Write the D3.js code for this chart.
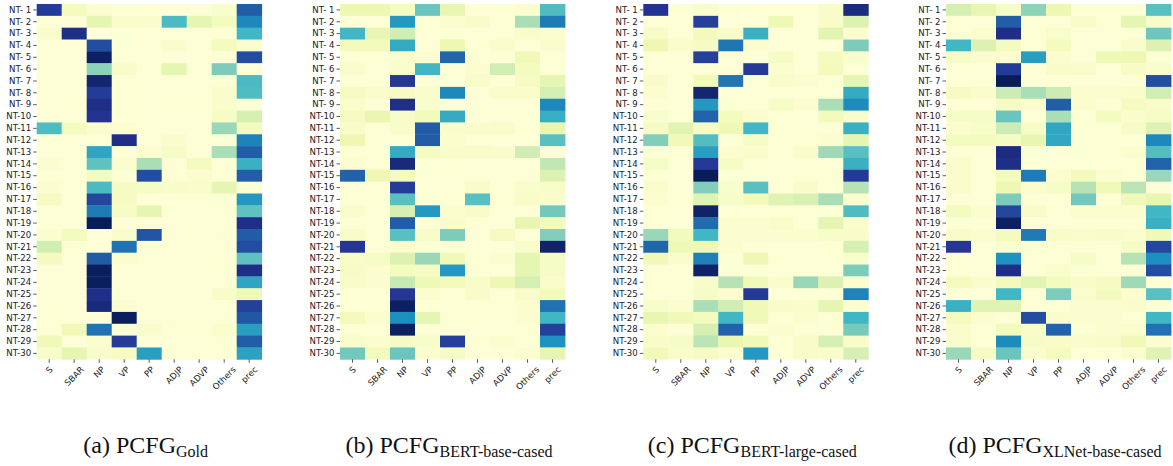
<!DOCTYPE html>
<html><head><meta charset="utf-8">
<script src="https://cdn.jsdelivr.net/npm/d3@7"></script>
<style>body{margin:0;background:#fff}svg{display:block}</style>
</head><body>
<svg id="chart" width="1173" height="466"></svg>
<script>
const columns = ["S","SBAR","NP","VP","PP","ADJP","ADVP","Others","prec"];
const rowLabels = d3.range(1,31).map(i => "NT-" + (i < 10 ? " " + i : i));
const captionMain = ["(a) PCFG","(b) PCFG","(c) PCFG","(d) PCFG"];
const captionSub = ["Gold","BERT-base-cased","BERT-large-cased","XLNet-base-cased"];

const gold = [
[0.85,0.08,0.03,0.02,0.01,0.01,0.01,0.04,0.75],
[0.01,0.01,0.15,0.04,0.04,0.48,0.15,0.08,0.65],
[0.04,0.90,0.00,0.02,0.01,0.01,0.01,0.01,0.50],
[0.01,0.01,0.80,0.02,0.01,0.04,0.01,0.08,0.03],
[0.01,0.01,0.98,0.02,0.01,0.01,0.01,0.02,0.80],
[0.02,0.01,0.35,0.05,0.02,0.15,0.02,0.38,0.01],
[0.01,0.01,0.95,0.02,0.01,0.01,0.01,0.02,0.48],
[0.01,0.01,0.85,0.02,0.02,0.02,0.02,0.04,0.47],
[0.01,0.02,0.90,0.02,0.01,0.02,0.02,0.04,0.02],
[0.01,0.01,0.88,0.02,0.01,0.02,0.02,0.06,0.20],
[0.47,0.08,0.03,0.03,0.01,0.01,0.01,0.33,0.08],
[0.02,0.01,0.02,0.90,0.01,0.04,0.01,0.02,0.66],
[0.01,0.01,0.56,0.01,0.03,0.06,0.01,0.30,0.75],
[0.03,0.01,0.44,0.03,0.30,0.01,0.08,0.01,0.52],
[0.02,0.01,0.08,0.02,0.80,0.02,0.03,0.02,0.75],
[0.03,0.01,0.48,0.07,0.06,0.05,0.04,0.15,0.02],
[0.07,0.01,0.82,0.07,0.01,0.01,0.01,0.02,0.60],
[0.02,0.01,0.68,0.06,0.15,0.02,0.02,0.02,0.44],
[0.01,0.01,1.00,0.01,0.01,0.01,0.01,0.01,0.90],
[0.03,0.08,0.01,0.04,0.78,0.01,0.01,0.02,0.76],
[0.22,0.02,0.01,0.70,0.01,0.01,0.01,0.01,0.80],
[0.08,0.02,0.76,0.03,0.02,0.02,0.01,0.02,0.44],
[0.01,0.01,0.99,0.01,0.01,0.01,0.01,0.02,0.90],
[0.01,0.01,0.99,0.01,0.01,0.01,0.01,0.01,0.56],
[0.01,0.01,0.90,0.02,0.01,0.01,0.01,0.05,0.10],
[0.02,0.01,0.93,0.03,0.01,0.01,0.01,0.01,0.84],
[0.02,0.01,0.01,0.99,0.01,0.01,0.01,0.01,0.77],
[0.02,0.10,0.70,0.02,0.04,0.02,0.02,0.04,0.58],
[0.10,0.01,0.03,0.85,0.01,0.01,0.01,0.02,0.75],
[0.05,0.15,0.04,0.07,0.58,0.02,0.02,0.02,0.57]
];
const bertBase = [
[0.12,0.12,0.07,0.42,0.14,0.01,0.02,0.03,0.47],
[0.01,0.01,0.60,0.01,0.03,0.05,0.02,0.30,0.68],
[0.50,0.14,0.22,0.01,0.02,0.01,0.02,0.04,0.03],
[0.09,0.09,0.54,0.01,0.12,0.02,0.04,0.01,0.04],
[0.02,0.02,0.04,0.03,0.73,0.02,0.02,0.10,0.02],
[0.04,0.01,0.04,0.50,0.01,0.03,0.22,0.08,0.02],
[0.02,0.02,0.87,0.01,0.01,0.05,0.01,0.07,0.15],
[0.07,0.04,0.07,0.04,0.65,0.01,0.04,0.04,0.20],
[0.04,0.01,0.90,0.04,0.01,0.01,0.01,0.01,0.65],
[0.07,0.13,0.05,0.09,0.54,0.01,0.01,0.02,0.53],
[0.05,0.02,0.05,0.76,0.04,0.04,0.05,0.02,0.14],
[0.12,0.02,0.02,0.76,0.03,0.02,0.01,0.01,0.45],
[0.02,0.02,0.54,0.07,0.04,0.05,0.04,0.22,0.01],
[0.03,0.02,0.93,0.02,0.02,0.01,0.01,0.01,0.26],
[0.74,0.12,0.08,0.02,0.02,0.01,0.01,0.01,0.18],
[0.01,0.01,0.85,0.01,0.01,0.05,0.01,0.04,0.05],
[0.02,0.02,0.45,0.02,0.02,0.45,0.02,0.05,0.04],
[0.04,0.01,0.20,0.60,0.03,0.05,0.02,0.01,0.40],
[0.02,0.01,0.75,0.01,0.04,0.02,0.01,0.14,0.09],
[0.05,0.01,0.45,0.05,0.38,0.01,0.07,0.01,0.37],
[0.87,0.01,0.03,0.02,0.02,0.01,0.01,0.05,0.96],
[0.05,0.06,0.18,0.33,0.10,0.02,0.03,0.15,0.06],
[0.06,0.03,0.08,0.07,0.60,0.02,0.01,0.15,0.06],
[0.05,0.03,0.25,0.11,0.09,0.05,0.12,0.20,0.04],
[0.02,0.02,0.87,0.03,0.02,0.05,0.02,0.05,0.09],
[0.02,0.02,0.98,0.02,0.02,0.02,0.02,0.03,0.70],
[0.09,0.03,0.63,0.15,0.02,0.02,0.02,0.03,0.50],
[0.02,0.02,0.98,0.02,0.01,0.01,0.01,0.02,0.84],
[0.04,0.03,0.07,0.05,0.84,0.02,0.03,0.02,0.62],
[0.40,0.09,0.42,0.03,0.06,0.01,0.01,0.03,0.15]
];
const bertLarge = [
[0.88,0.02,0.04,0.02,0.01,0.01,0.01,0.05,0.92],
[0.01,0.01,0.84,0.01,0.01,0.11,0.01,0.05,0.18],
[0.06,0.02,0.09,0.05,0.52,0.01,0.01,0.16,0.03],
[0.12,0.04,0.07,0.69,0.03,0.01,0.01,0.01,0.38],
[0.02,0.01,0.84,0.01,0.01,0.06,0.02,0.08,0.04],
[0.01,0.01,0.02,0.01,0.86,0.03,0.02,0.09,0.02],
[0.05,0.02,0.10,0.69,0.01,0.05,0.03,0.02,0.15],
[0.03,0.01,0.95,0.01,0.01,0.02,0.02,0.02,0.54],
[0.01,0.01,0.60,0.02,0.02,0.06,0.03,0.30,0.64],
[0.04,0.02,0.74,0.08,0.03,0.02,0.01,0.09,0.04],
[0.07,0.16,0.06,0.11,0.50,0.02,0.02,0.02,0.52],
[0.37,0.10,0.46,0.02,0.06,0.02,0.02,0.03,0.15],
[0.02,0.02,0.58,0.03,0.04,0.02,0.04,0.32,0.45],
[0.06,0.01,0.86,0.06,0.02,0.02,0.02,0.02,0.52],
[0.02,0.01,1.00,0.02,0.02,0.01,0.02,0.02,0.86],
[0.04,0.01,0.37,0.04,0.45,0.01,0.05,0.02,0.28],
[0.03,0.02,0.17,0.05,0.09,0.17,0.19,0.30,0.03],
[0.02,0.01,0.97,0.02,0.01,0.02,0.02,0.02,0.47],
[0.02,0.02,0.72,0.03,0.03,0.05,0.02,0.15,0.04],
[0.33,0.09,0.50,0.03,0.03,0.03,0.03,0.05,0.05],
[0.73,0.11,0.11,0.03,0.02,0.01,0.01,0.02,0.20],
[0.10,0.04,0.67,0.02,0.12,0.02,0.01,0.02,0.04],
[0.02,0.02,0.97,0.02,0.02,0.01,0.01,0.01,0.38],
[0.02,0.02,0.05,0.28,0.10,0.04,0.33,0.18,0.03],
[0.02,0.02,0.06,0.03,0.86,0.01,0.02,0.02,0.66],
[0.05,0.03,0.30,0.22,0.10,0.05,0.04,0.15,0.03],
[0.14,0.10,0.08,0.50,0.10,0.02,0.03,0.02,0.50],
[0.03,0.01,0.20,0.74,0.02,0.03,0.02,0.02,0.39],
[0.05,0.06,0.27,0.13,0.10,0.02,0.05,0.20,0.05],
[0.10,0.05,0.07,0.03,0.60,0.02,0.05,0.04,0.20]
];
const xlnetBase = [
[0.20,0.14,0.06,0.35,0.12,0.02,0.02,0.02,0.45],
[0.01,0.01,0.75,0.01,0.01,0.05,0.02,0.15,0.05],
[0.02,0.03,0.90,0.02,0.04,0.01,0.01,0.02,0.41],
[0.50,0.18,0.08,0.02,0.08,0.01,0.02,0.04,0.18],
[0.06,0.03,0.03,0.58,0.03,0.02,0.11,0.12,0.02],
[0.01,0.01,0.85,0.01,0.05,0.04,0.02,0.06,0.04],
[0.01,0.01,1.00,0.01,0.01,0.01,0.01,0.01,0.80],
[0.07,0.04,0.23,0.30,0.23,0.03,0.03,0.04,0.22],
[0.02,0.01,0.07,0.03,0.75,0.03,0.02,0.07,0.05],
[0.06,0.06,0.42,0.02,0.30,0.02,0.08,0.04,0.06],
[0.03,0.05,0.23,0.06,0.55,0.02,0.02,0.06,0.18],
[0.08,0.08,0.07,0.14,0.55,0.02,0.02,0.02,0.65],
[0.02,0.01,0.92,0.02,0.01,0.02,0.02,0.03,0.46],
[0.04,0.01,0.90,0.02,0.02,0.02,0.01,0.02,0.74],
[0.04,0.01,0.08,0.68,0.03,0.09,0.03,0.02,0.33],
[0.04,0.01,0.12,0.03,0.06,0.28,0.10,0.27,0.01],
[0.02,0.01,0.38,0.02,0.02,0.40,0.02,0.10,0.14],
[0.08,0.03,0.82,0.05,0.02,0.03,0.03,0.03,0.50],
[0.02,0.02,0.98,0.01,0.01,0.02,0.02,0.02,0.52],
[0.05,0.03,0.08,0.68,0.05,0.04,0.05,0.03,0.10],
[0.87,0.01,0.04,0.02,0.02,0.02,0.02,0.06,0.82],
[0.01,0.01,0.62,0.01,0.02,0.06,0.02,0.28,0.63],
[0.02,0.01,0.90,0.02,0.04,0.02,0.02,0.02,0.80],
[0.08,0.04,0.09,0.16,0.08,0.05,0.07,0.32,0.01],
[0.01,0.01,0.50,0.01,0.38,0.04,0.08,0.03,0.45],
[0.52,0.17,0.17,0.01,0.02,0.03,0.03,0.04,0.02],
[0.08,0.03,0.02,0.80,0.04,0.03,0.03,0.02,0.50],
[0.04,0.02,0.09,0.05,0.74,0.02,0.03,0.04,0.70],
[0.04,0.02,0.64,0.06,0.05,0.04,0.05,0.10,0.03],
[0.33,0.07,0.42,0.04,0.08,0.02,0.02,0.03,0.17]
];
const panels = [gold, bertBase, bertLarge, xlnetBase];

// matplotlib YlGnBu (piecewise linear)
const ylgnbu = ["#ffffd9","#edf8b1","#c7e9b4","#7fcdbb","#41b6c4","#1d91c0","#225ea8","#253494","#081d58"];
const color = d3.scaleLinear()
  .domain(d3.range(9).map(i => i / 8))
  .range(ylgnbu)
  .interpolate(d3.interpolateRgb)
  .clamp(true);

const svg = d3.select("#chart");
const panelX = [36.7, 340, 643.3, 946];
const gridTop = 4, gridBottom = 359.3, gridWidth = 225;
const tickColor = "#333", textColor = "#222";
const fs = 8.6;

panels.forEach((data, p) => {
  const g = svg.append("g").attr("transform", `translate(${panelX[p]},0)`);
  const x = d3.scaleBand().domain(columns).range([0, gridWidth]);
  const y = d3.scaleBand().domain(rowLabels).range([gridTop, gridBottom]);

  const cells = [];
  data.forEach((row, r) => row.forEach((v, c) => cells.push({r: rowLabels[r], c: columns[c], v})));
  g.selectAll("rect.cell").data(cells).join("rect")
    .attr("class", "cell")
    .attr("x", d => x(d.c))
    .attr("y", d => y(d.r))
    .attr("width", x.bandwidth() + 0.4)
    .attr("height", y.bandwidth() + 0.4)
    .attr("fill", d => color(d.v));

  const yAxis = d3.axisLeft(y).tickSize(3.5).tickPadding(2);
  const ya = g.append("g").call(yAxis);
  ya.select(".domain").remove();
  ya.selectAll("line").attr("stroke", tickColor).attr("stroke-width", 0.8);
  ya.selectAll("text").attr("fill", textColor)
    .style("font-family", "'DejaVu Sans', sans-serif").style("font-size", fs + "px");

  const xAxis = d3.axisBottom(x).tickSize(3.5).tickPadding(2);
  const xa = g.append("g").attr("transform", `translate(0,${gridBottom})`).call(xAxis);
  xa.select(".domain").remove();
  xa.selectAll("line").attr("stroke", tickColor).attr("stroke-width", 0.8);
  xa.selectAll("text").attr("fill", textColor)
    .style("font-family", "'DejaVu Sans', sans-serif").style("font-size", fs + "px")
    .attr("dy", null).attr("y", null)
    .attr("text-anchor", "middle")
    .attr("dominant-baseline", "central")
    .each(function() {
      const w = this.getComputedTextLength();
      const h = fs * 1.05;
      const d = (w + h) / (2 * Math.SQRT2);
      d3.select(this).attr("transform", `translate(0,${5.5 + d}) rotate(-45)`);
    });

  const cap = svg.append("text")
    .attr("y", 453)
    .style("font-family", "'Liberation Serif', 'Times New Roman', serif")
    .attr("fill", "#111");
  cap.append("tspan").style("font-size", "24px").text(captionMain[p]);
  cap.append("tspan").style("font-size", "16px").attr("dy", 3.5).text(captionSub[p]);
  const cw = cap.node().getComputedTextLength();
  cap.attr("x", panelX[p] + gridWidth / 2 - 3.5 - cw / 2);
});
</script>
</body></html>
